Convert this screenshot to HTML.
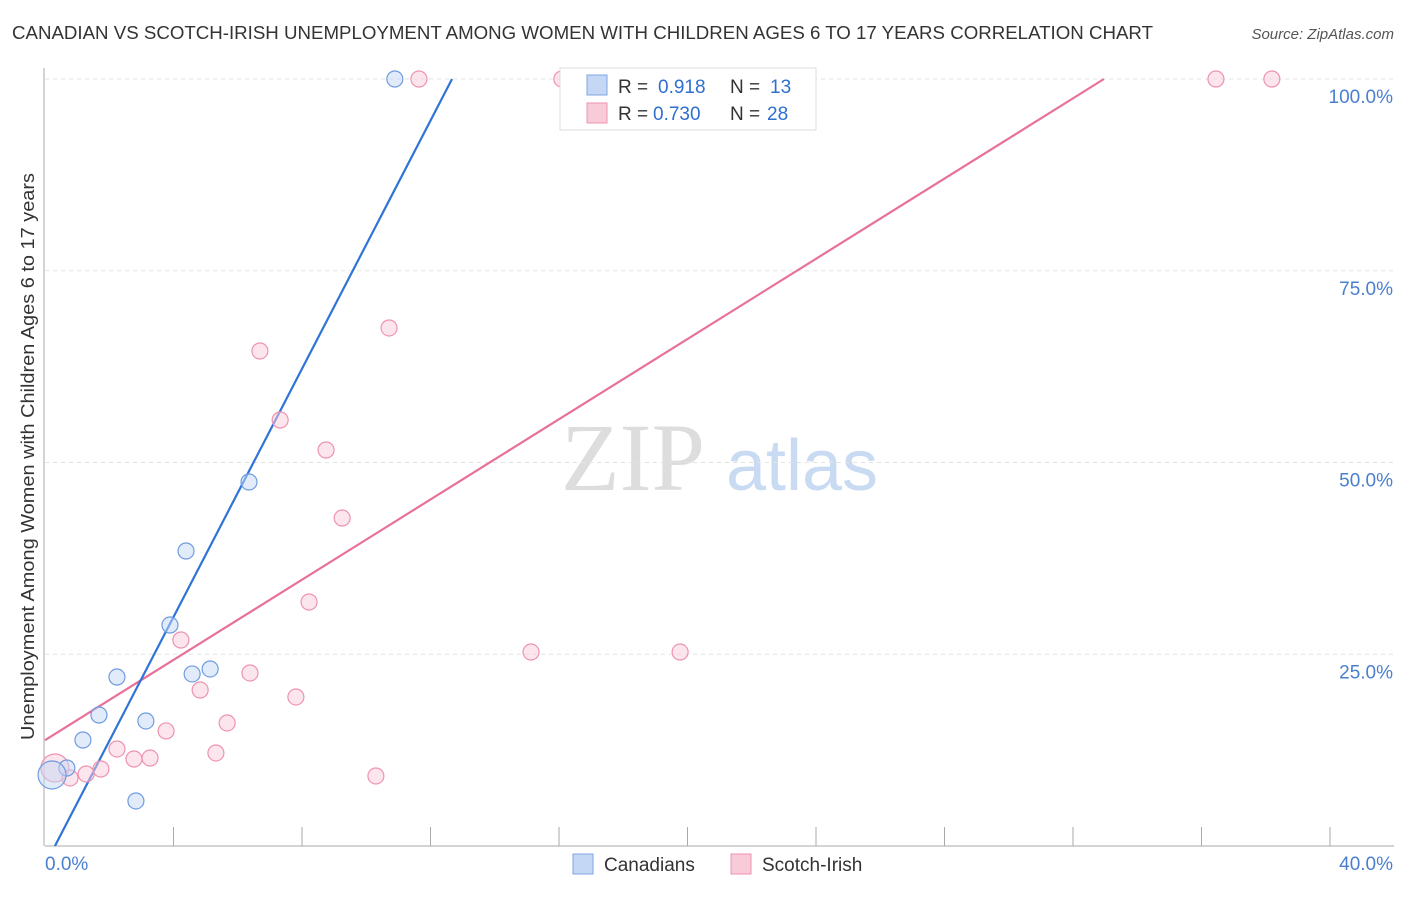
<!DOCTYPE html>
<html><head><meta charset="utf-8"><style>
body{margin:0;background:#fff;font-family:"Liberation Sans",sans-serif;}
</style></head><body>
<svg id="chart" width="1406" height="892" xmlns="http://www.w3.org/2000/svg" font-family="Liberation Sans, sans-serif">
<text x="12" y="39" font-size="18" fill="#333" textLength="1141" lengthAdjust="spacingAndGlyphs">CANADIAN VS SCOTCH-IRISH UNEMPLOYMENT AMONG WOMEN WITH CHILDREN AGES 6 TO 17 YEARS CORRELATION CHART</text>
<text x="1394" y="39" font-size="15" fill="#555" font-style="italic" text-anchor="end">Source: ZipAtlas.com</text>
<text transform="translate(34,740) rotate(-90)" font-size="18" fill="#333" textLength="567" lengthAdjust="spacingAndGlyphs">Unemployment Among Women with Children Ages 6 to 17 years</text>
<g>
<text x="633" y="490" font-size="96" font-family="Liberation Serif, serif" fill="#ddd" text-anchor="middle">ZIP</text>
<text x="802" y="490" font-size="72" fill="#c9daf3" text-anchor="middle">atlas</text>
</g>
<g id="grid"></g>
<g id="axes"></g>
<g id="lines"></g>
<g id="points"></g>
<g>
<rect x="560" y="68" width="256" height="62" fill="#fff" stroke="#ddd"/>
<rect x="587" y="75" width="20" height="20" fill="#c4d7f5" stroke="#7fa6e3"/>
<text x="618" y="93" font-size="19" fill="#333">R =</text>
<text x="658" y="93" font-size="19" fill="#2f6fd0">0.918</text>
<text x="730" y="93" font-size="19" fill="#333">N =</text>
<text x="770" y="93" font-size="19" fill="#2f6fd0">13</text>
<rect x="587" y="103" width="20" height="20" fill="#f9cbd9" stroke="#ee93af"/>
<text x="618" y="120" font-size="19" fill="#333">R =</text>
<text x="653" y="120" font-size="19" fill="#2f6fd0">0.730</text>
<text x="730" y="120" font-size="19" fill="#333">N =</text>
<text x="767" y="120" font-size="19" fill="#2f6fd0">28</text>
</g>
<g>
<rect x="573" y="854" width="20" height="20" fill="#c4d7f5" stroke="#7fa6e3"/>
<text x="604" y="871" font-size="19" fill="#333">Canadians</text>
<rect x="731" y="854" width="20" height="20" fill="#f9cbd9" stroke="#ee93af"/>
<text x="762" y="871" font-size="19" fill="#333">Scotch-Irish</text>
</g>
</svg>
<script>
const yTicks=[25,50,75,100];
const yTickLabels=["25.0%","50.0%","75.0%","100.0%"];
const xTickLabels=["0.0%","40.0%"];
const canX=[10.89,6.35,4.39,3.89,4.58,5.14,2.24,1.68,3.14,1.18,0.68,2.83,0.22];
const canY=[100,47.46,38.46,28.81,22.43,23.08,22.03,17.08,16.30,13.82,10.17,5.87,9.26];
const sciX=[11.64,16.09,36.45,38.19,10.71,6.69,7.32,8.75,9.25,8.22,4.23,15.13,19.77,6.38,4.83,7.81,5.67,3.77,2.24,5.32,2.77,3.27,1.74,1.28,10.30,0.31,0.78];
const sciY=[100,100,100,100,67.54,64.54,55.54,51.63,42.76,31.81,26.86,25.29,25.29,22.56,20.34,19.43,16.04,15.0,12.65,12.13,11.34,11.47,10.04,9.39,9.13,10.17,8.87];
const canTrend=[-2.5,8.09];
const sciTrend=[13.8,2.615];
const NS="http://www.w3.org/2000/svg";
const X=v=>45+v/40*1285, Y=v=>846-v*7.67;
function mk(tag,attrs,parent){const e=document.createElementNS(NS,tag);for(const k in attrs)e.setAttribute(k,attrs[k]);document.getElementById(parent).appendChild(e);return e;}
yTicks.forEach((t,i)=>{
 const g=mk('line',{x1:45,x2:1394,y1:Y(t),y2:Y(t),stroke:'#e3e3e3','stroke-dasharray':'4,4'},'grid');
 
 
 const tx=mk('text',{x:1393,y:Y(t)+24,'font-size':19,fill:'#4a7fd0','text-anchor':'end'},'axes');
 tx.textContent=yTickLabels[i];
 
 
});
const ax=mk('line',{x1:45,x2:1394,y1:846,y2:846,stroke:'#aaa'},'axes');


const ay=mk('line',{x1:44,x2:44,y1:68,y2:846,stroke:'#aaa'},'axes');


for(let i=1;i<=10;i++){
 const t=mk('line',{x1:X(i*4),x2:X(i*4),y1:827,y2:846,stroke:'#aaa'},'axes');
 
 
}
[[0,'start',45],[40,'end',1393]].forEach((d,i)=>{
 const tx=mk('text',{x:d[2],y:870,'font-size':19,fill:'#4a7fd0','text-anchor':d[1]},'axes');
 tx.textContent=xTickLabels[i];
 
 
});
function trend(tr,color,name){
 let x0=Math.max(0,(0-tr[0])/tr[1]), x1=Math.min(40,(100-tr[0])/tr[1]);
 const l=mk('line',{x1:X(x0),y1:Y(tr[0]+tr[1]*x0),x2:X(x1),y2:Y(tr[0]+tr[1]*x1),stroke:color,'stroke-width':2.2},'lines');
 
 
}
trend(sciTrend,'#e8709a','scotch-irish-trendline');
trend(canTrend,'#2f74d6','canadians-trendline');
function pts(xs,ys,fill,stroke,name){
 xs.forEach((x,i)=>{
  const big=(x<0.35);
  const c=mk('circle',{cx:X(x),cy:Y(ys[i]),r:big?14:8,fill:fill,'fill-opacity':0.5,stroke:stroke,'stroke-width':1.2},'points');
  
  
 });
}
pts(sciX,sciY,'#f9cbd9','#ee93af','scotch-irish-point');
pts(canX,canY,'#c4d7f5','#6f9be0','canadians-point');
</script>
</body></html>
